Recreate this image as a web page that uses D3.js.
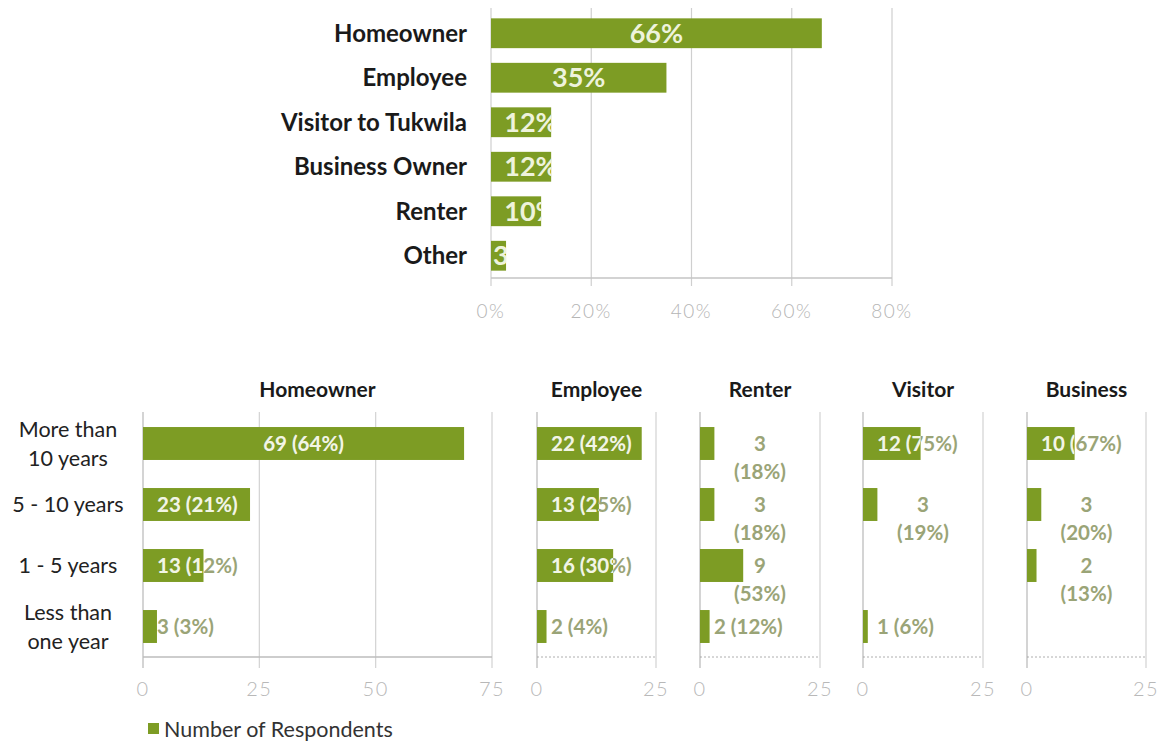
<!DOCTYPE html>
<html><head><meta charset="utf-8">
<script src="https://cdn.jsdelivr.net/npm/d3@7"></script>
<style>
body{margin:0;background:#fff;}
svg{font-family:Lato, "Open Sans", sans-serif;}
</style></head>
<body><svg id="c" width="1162" height="742"></svg>
<script>
// ---- Data ----
const roleCategories = ["Homeowner","Employee","Visitor to Tukwila","Business Owner","Renter","Other"];
const rolePercents = [66,35,12,12,10,3];
const roleTicks = [0,20,40,60,80];

const tenureCategories = [["More than","10 years"],["5 - 10 years"],["1 - 5 years"],["Less than","one year"]];
const panelNames = ["Homeowner","Employee","Renter","Visitor","Business"];
const homeownerCounts = [69,23,13,3];
const homeownerPcts   = [64,21,12,3];
const employeeCounts  = [22,13,16,2];
const employeePcts    = [42,25,30,4];
const renterCounts    = [3,3,9,2];
const renterPcts      = [18,18,53,12];
const visitorCounts   = [12,3,0,1];
const visitorPcts     = [75,19,null,6];
const businessCounts  = [10,3,2,0];
const businessPcts    = [67,20,13,null];
const homeownerTicks = [0,25,50,75];
const smallTicks = [0,25];
const legendLabel = "Number of Respondents";

// layout config (not data): which labels Excel wrapped onto two lines
const wrapLabel = {Renter:[0,1,2], Visitor:[1], Business:[1,2]};

const GREEN = "#7d9c24";
const svg = d3.select("#c");
const defs = svg.append("defs");
const measurer = svg.append("text").attr("visibility","hidden");
function textW(s, size, weight){
  measurer.attr("font-size",size).attr("font-weight",weight||"bold").text(s);
  return measurer.node().getComputedTextLength();
}

// ---- Top chart ----
(function(){
  const x = d3.scaleLinear().domain([0,80]).range([491,892]);
  const y = d3.scaleBand().domain(roleCategories).range([11,278]).paddingInner(0.33).paddingOuter(0.165);
  const g = svg.append("g");
  g.selectAll("line.grid").data(roleTicks).join("line")
    .attr("x1",d=>x(d)).attr("x2",d=>x(d)).attr("y1",8).attr("y2",286)
    .attr("stroke","#cfcfcf").attr("stroke-width",1.2);
  g.append("line").attr("x1",x(0)).attr("x2",x(80)).attr("y1",278).attr("y2",278).attr("stroke","#c4c4c4").attr("stroke-width",1.5);
  roleCategories.forEach((c,i)=>{
    defs.append("clipPath").attr("id","tc"+i).append("rect")
      .attr("x",x(0)).attr("y",y(c)).attr("width",x(rolePercents[i])-x(0)).attr("height",y.bandwidth());
  });
  g.selectAll("rect.bar").data(roleCategories).join("rect")
    .attr("x",x(0)).attr("y",d=>y(d)).attr("width",(d,i)=>x(rolePercents[i])-x(0)).attr("height",y.bandwidth())
    .attr("fill",GREEN);
  const LS = 27;
  g.selectAll("text.val").data(roleCategories).join("text")
    .attr("clip-path",(d,i)=>`url(#tc${i})`)
    .attr("x",(d,i)=>{
      const bw = x(rolePercents[i])-x(0), w = textW(rolePercents[i]+"%", LS);
      return bw < 20 ? x(0)+2+w/2 : Math.max((x(0)+x(rolePercents[i]))/2, x(0)+40);
    })
    .attr("y",d=>y(d)+y.bandwidth()/2).attr("dy","0.36em")
    .attr("text-anchor","middle").attr("font-size",LS).attr("font-weight","bold")
    .attr("fill","#eef3dc").text((d,i)=>rolePercents[i]+"%");
  g.selectAll("text.cat").data(roleCategories).join("text")
    .attr("x",467).attr("y",d=>y(d)+y.bandwidth()/2).attr("dy","0.36em")
    .attr("text-anchor","end").attr("font-size",24).attr("font-weight","bold").attr("fill","#1a1a1a")
    .text(d=>d);
  g.selectAll("text.tick").data(roleTicks).join("text")
    .attr("x",d=>x(d)).attr("y",318).attr("text-anchor","middle").attr("letter-spacing",1.5)
    .attr("font-size",19).attr("fill","#b5b5b5").attr("font-weight",300).text(d=>d+"%");
})();

// ---- Bottom panels ----
const panels = [
  {name:"Homeowner", counts:homeownerCounts, pcts:homeownerPcts, max:75, ticks:homeownerTicks, x0:143, x1:492},
  {name:"Employee",  counts:employeeCounts,  pcts:employeePcts,  max:25, ticks:smallTicks, x0:537, x1:656},
  {name:"Renter",    counts:renterCounts,    pcts:renterPcts,    max:25, ticks:smallTicks, x0:700, x1:820},
  {name:"Visitor",   counts:visitorCounts,   pcts:visitorPcts,   max:25, ticks:smallTicks, x0:863, x1:983},
  {name:"Business",  counts:businessCounts,  pcts:businessPcts,  max:25, ticks:smallTicks, x0:1027, x1:1146}
];
const yb = d3.scaleBand().domain(d3.range(tenureCategories.length)).range([413,657]).paddingInner(0.46).paddingOuter(0.23);

// category labels
const catG = svg.append("g");
tenureCategories.forEach((lines,i)=>{
  const cy = yb(i)+yb.bandwidth()/2;
  const t = catG.append("text").attr("text-anchor","middle").attr("font-size",21.5).attr("fill","#222");
  lines.forEach((l,j)=>{
    t.append("tspan").attr("x",68).attr("y",cy + (j-(lines.length-1)/2)*29).attr("dy","0.36em").text(l);
  });
});

const BL = 20.5;
panels.forEach((p,pi)=>{
  const x = d3.scaleLinear().domain([0,p.max]).range([p.x0, p.x1]);
  const g = svg.append("g");
  const [r0,r1] = x.range();
  g.append("text").attr("x",(r0+r1)/2).attr("y",397).attr("text-anchor","middle")
    .attr("font-size",21).attr("font-weight","bold").attr("fill","#1a1a1a").text(p.name);
  g.selectAll("line.grid").data(p.ticks).join("line")
    .attr("x1",d=>x(d)).attr("x2",d=>x(d)).attr("y1",412).attr("y2",668)
    .attr("stroke",d=>d===0?"#b8b8b8":"#d2d2d2").attr("stroke-width",1.2);
  g.append("line").attr("x1",r0).attr("x2",r1).attr("y1",657).attr("y2",657)
    .attr("stroke", pi===0?"#bdbdbd":"#9a9a9a").attr("stroke-width",pi===0?1.6:0.8)
    .attr("stroke-dasharray", pi===0?null:"2,2");
  g.selectAll("text.tick").data(p.ticks).join("text")
    .attr("x",d=>x(d)).attr("y",696).attr("text-anchor","middle").attr("letter-spacing",1.5)
    .attr("font-size",20).attr("font-weight",300).attr("fill","#b8b8b8").text(d=>d);

  p.counts.forEach((v,i)=>{
    const by = yb(i), bh = yb.bandwidth(), cy = by+bh/2;
    if(v>0){
      g.append("rect").attr("x",x(0)).attr("y",by).attr("width",x(v)-x(0)).attr("height",bh).attr("fill",GREEN);
    }
    if(p.pcts[i]==null) return;
    const clipId = "bc"+pi+"_"+i;
    defs.append("clipPath").attr("id",clipId).append("rect")
      .attr("x",x(0)).attr("y",by).attr("width",Math.max(0,x(v)-x(0))).attr("height",bh);
    const wrap = (wrapLabel[p.name]||[]).includes(i);
    const full = v+" ("+p.pcts[i]+"%)";
    const lines = wrap ? [String(v), "("+p.pcts[i]+"%)"] : [full];
    let cx;
    if(wrap){ cx = (r0+r1)/2; }
    else {
      const w = textW(full, BL);
      const left = Math.max((x(0)+x(v))/2 - w/2, x(0)+14);
      cx = left + w/2;
    }
    lines.forEach((l,j)=>{
      const ly = cy + j*28;
      const attrs = s=>s.attr("x",cx).attr("y",ly).attr("dy","0.36em").attr("text-anchor","middle")
        .attr("font-size",BL).attr("font-weight","bold").text(l);
      attrs(g.append("text").attr("fill","#9aa477"));
      attrs(g.append("text").attr("fill","#f2f6e4").attr("clip-path",`url(#${clipId})`));
    });
  });
});

// legend
svg.append("rect").attr("x",148).attr("y",723).attr("width",11).attr("height",11).attr("fill",GREEN);
svg.append("text").attr("x",164).attr("y",729).attr("dy","0.36em").attr("font-size",21.5).attr("fill","#333").text(legendLabel);
</script></body></html>
